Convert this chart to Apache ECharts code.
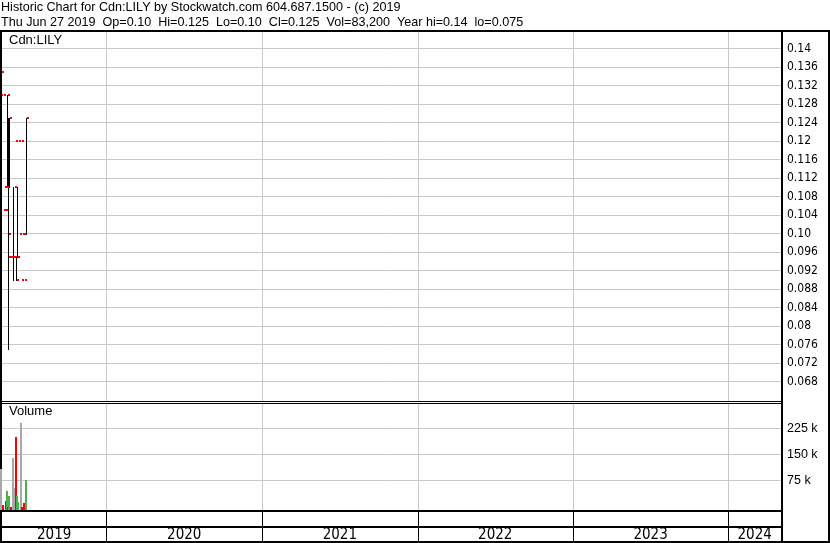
<!DOCTYPE html>
<html><head><meta charset="utf-8">
<script src="https://cdn.jsdelivr.net/npm/echarts@6/dist/echarts.min.js"></script>
<style>html,body{margin:0;padding:0;background:#fff}#c{width:830px;height:543px}</style>
</head><body><div id="c"></div>
<script>
// ---------------- data ----------------
const ticker  = 'Cdn:LILY';
const dates   = ['2019-04-29','2019-05-03','2019-05-10','2019-05-13','2019-05-15','2019-05-17','2019-05-21','2019-05-27','2019-05-31','2019-06-03','2019-06-06','2019-06-07','2019-06-14','2019-06-17','2019-06-21','2019-06-27'];
const opens   = [0.135,0.13,0.105,0.11,0.105,0.11,0.095,0.095,0.095,0.095,0.11,0.12,0.12,0.10,0.09,0.10];
const highs   = [0.14,0.13,0.105,0.13,0.125,0.125,0.095,0.11,0.095,0.095,0.11,0.12,0.12,0.10,0.09,0.125];
const lows    = [0.135,0.13,0.105,0.11,0.075,0.11,0.095,0.09,0.095,0.09,0.095,0.12,0.12,0.10,0.09,0.10];
const closes  = [0.135,0.13,0.105,0.13,0.10,0.125,0.095,0.095,0.095,0.09,0.095,0.12,0.12,0.10,0.09,0.125];
const volumes = [114000,12800,25000,53000,8000,38000,6000,145000,60000,207000,38000,22000,247000,8000,19000,83200];
const years   = [2019,2020,2021,2022,2023,2024];
const priceTickRange  = [0.068, 0.14, 0.004];     // min, max, step of price labels
const volumeTickRange = [75000, 225000, 75000];   // min, max, step of volume labels
const axisStart = '2019-05-01T00:00:00Z';
const axisEnd   = '2024-05-03T18:00:00Z';

// ---------------- helpers ----------------
const ts = s => Date.parse(s.length === 10 ? s + 'T00:00:00Z' : s);
const START = ts(axisStart), END = ts(axisEnd);
const fmtPrice = v => { const s = v.toFixed(3); return s.endsWith('0') ? v.toFixed(2) : s; };
const REG = '"Liberation Sans", Arial, sans-serif';
const NARROW = '"Liberation Sans Narrow", "Arial Narrow", "DejaVu Sans Condensed", "Liberation Sans", sans-serif';
const GRID_GREY = '#c8c8c8';
const UP = '#4cb04c', DOWN = '#ff0000', FLAT = '#a8a8a8';

const n = dates.length, last = n - 1;
const dir = closes.map((c, i) => i === 0 ? 0 : (c > closes[i-1] ? 1 : (c < closes[i-1] ? -1 : 0)));
const yearHi = Math.max(...highs), yearLo = Math.min(...lows);
const WD = ['Sun','Mon','Tue','Wed','Thu','Fri','Sat'];
const MO = ['Jan','Feb','Mar','Apr','May','Jun','Jul','Aug','Sep','Oct','Nov','Dec'];
const ld = new Date(ts(dates[last]));
const dateStr = WD[ld.getUTCDay()] + ' ' + MO[ld.getUTCMonth()] + ' ' + ld.getUTCDate() + ' ' + ld.getUTCFullYear();
const line1 = 'Historic Chart for ' + ticker + ' by Stockwatch.com 604.687.1500 - (c) ' + ld.getUTCFullYear();
const line2 = dateStr + '  Op=' + fmtPrice(opens[last]) + '  Hi=' + fmtPrice(highs[last]) + '  Lo=' + fmtPrice(lows[last]) +
  '  Cl=' + fmtPrice(closes[last]) + '  Vol=' + volumes[last].toLocaleString('en-US') +
  '  Year hi=' + fmtPrice(yearHi) + '  lo=' + fmtPrice(yearLo);

const ohlcData = dates.map((d, i) => [ts(d), opens[i], highs[i], lows[i], closes[i]]);
const volData = dates.map((d, i) => [ts(d), volumes[i], dir[i]]);
const boundaryData = years.slice(1).map(y => [Date.UTC(y, 0, 1), 0]);
const yearData = years.map(y => [y]);

// ---------------- layout ----------------
const PL = 2, PR = 49;  // plot area: x 2 .. 781
const grids = [
  {left: PL, right: PR, top: 48.5, height: 333},     // 0 price
  {left: PL, right: PR, top: 403.9, height: 105.6},  // 1 volume bars (0 .. 300k)
  {left: PL, right: PR, top: 428.3, height: 52},     // 2 volume labels / gridlines
  {left: PL, right: PR, top: 32, height: 369},       // 3 price panel vertical lines
  {left: PL, right: PR, top: 404, height: 106},      // 4 volume panel vertical lines
  {left: PL, right: PR, top: 512, height: 29},       // 5 date strips vertical lines
  {left: PL, right: PR, top: 528, height: 13}        // 6 year labels
].map(g => Object.assign({outerBoundsMode: 'none', containLabel: false}, g));

const xAxes = grids.map((g, i) => ({type: 'time', gridIndex: i, min: START, max: END, show: false}));
const hidden = i => ({type: 'value', gridIndex: i, min: 0, max: 1, show: false});
const yAxes = [
  {type: 'value', gridIndex: 0, position: 'right', min: priceTickRange[0], max: priceTickRange[1], interval: priceTickRange[2],
   axisLine: {show: false}, axisTick: {show: false},
   axisLabel: {formatter: fmtPrice, margin: 6, color: '#000', fontFamily: NARROW, fontSize: 12},
   splitLine: {show: true, lineStyle: {color: GRID_GREY, width: 1}}},
  {type: 'value', gridIndex: 1, min: 0, max: 300000, show: false},
  {type: 'value', gridIndex: 2, position: 'right', min: volumeTickRange[0], max: volumeTickRange[1], interval: volumeTickRange[2],
   axisLine: {show: false}, axisTick: {show: false},
   axisLabel: {formatter: v => (v / 1000) + ' k', margin: 6, color: '#000', fontFamily: REG, fontSize: 12.5},
   splitLine: {show: true, lineStyle: {color: GRID_GREY, width: 1}}},
  hidden(3), hidden(4), hidden(5), hidden(6)
];

function vLines(color) {
  return function (params, api) {
    const cs = params.coordSys;
    const x = Math.round(api.coord([api.value(0), 0])[0]);
    return {type: 'rect', shape: {x: x, y: cs.y, width: 1, height: cs.height}, style: {fill: color}};
  };
}

const series = [
  {type: 'custom', xAxisIndex: 3, yAxisIndex: 3, data: boundaryData, renderItem: vLines(GRID_GREY), z: 1, silent: true},
  {type: 'custom', xAxisIndex: 4, yAxisIndex: 4, data: boundaryData, renderItem: vLines(GRID_GREY), z: 1, silent: true},
  {type: 'custom', xAxisIndex: 5, yAxisIndex: 5, data: boundaryData, renderItem: vLines('#000'), z: 1, silent: true},
  {type: 'custom', name: 'OHLC', xAxisIndex: 0, yAxisIndex: 0, data: ohlcData, z: 5, silent: true,
   renderItem(params, api) {
     const t = api.value(0);
     const x = Math.round(api.coord([t, 0.1])[0]);
     const y = v => Math.round(api.coord([t, v])[1]);
     const yO = y(api.value(1)), yH = y(api.value(2)), yL = y(api.value(3)), yC = y(api.value(4));
     const ch = [];
     if (yL > yH) ch.push({type: 'rect', shape: {x: x, y: yH, width: 1, height: yL - yH + 1}, style: {fill: '#000'}});
     ch.push({type: 'rect', shape: {x: x - 2, y: yO - 1, width: 2, height: 2}, style: {fill: '#ff0000'}});
     ch.push({type: 'rect', shape: {x: x + 1, y: yC - 1, width: 2, height: 2}, style: {fill: '#ff0000'}});
     return {type: 'group', children: ch};
   }},
  {type: 'custom', name: 'Volume', xAxisIndex: 1, yAxisIndex: 1, data: volData, z: 20, silent: true,
   renderItem(params, api) {
     const t = api.value(0);
     const x = Math.round(api.coord([t, 0])[0]);
     const y0 = Math.round(api.coord([t, 0])[1]);
     const y1 = Math.round(api.coord([t, api.value(1)])[1]);
     const d = api.value(2);
     return {type: 'rect', shape: {x: x - 1, y: y1, width: 2, height: y0 - y1}, style: {fill: d > 0 ? UP : (d < 0 ? DOWN : FLAT)}};
   }},
  {type: 'custom', name: 'Years', xAxisIndex: 6, yAxisIndex: 6, data: yearData, z: 5, silent: true,
   renderItem(params, api) {
     const cs = params.coordSys;
     const yr = api.value(0);
     const a = Math.max(Date.UTC(yr, 0, 1), START), b = Math.min(Date.UTC(yr + 1, 0, 1), END);
     const xa = api.coord([a, 0])[0], xb = api.coord([b, 0])[0];
     return {type: 'text', x: (xa + xb) / 2, y: cs.y + cs.height / 2 + 0.5,
       style: {text: String(yr), fill: '#000', font: '15px ' + NARROW,
               align: 'center', verticalAlign: 'middle', textAlign: 'center', textVerticalAlign: 'middle'}};
   }}
];

const rect = (x, y, w, h) => ({type: 'rect', shape: {x, y, width: w, height: h}, style: {fill: '#000'}, z: 10, silent: true});
const txt = (x, y, s, font) => ({type: 'text', x, y, z: 10, silent: true,
  style: {text: s, fill: '#000', font: font, verticalAlign: 'top', textVerticalAlign: 'top'}});
const graphic = [
  txt(1, 1, line1, '12.6px ' + REG),
  txt(1, 16, line2, '12.6px ' + REG),
  txt(9, 34, ticker, '13px ' + REG),
  txt(9, 405, 'Volume', '13px ' + REG),
  rect(0, 30, 830, 2),
  rect(0, 30, 2, 513),
  rect(781, 30, 2, 513),
  rect(828, 30, 2, 513),
  rect(0, 401, 783, 1),
  rect(0, 403, 783, 1),
  rect(0, 510, 783, 2),
  rect(0, 526, 783, 2),
  rect(0, 541, 830, 2)
];

const chart = echarts.init(document.getElementById('c'), null, {renderer: 'canvas'});
chart.setOption({
  animation: false,
  backgroundColor: '#fff',
  grid: grids,
  xAxis: xAxes,
  yAxis: yAxes,
  series: series,
  graphic: graphic
});
</script>
</body></html>
